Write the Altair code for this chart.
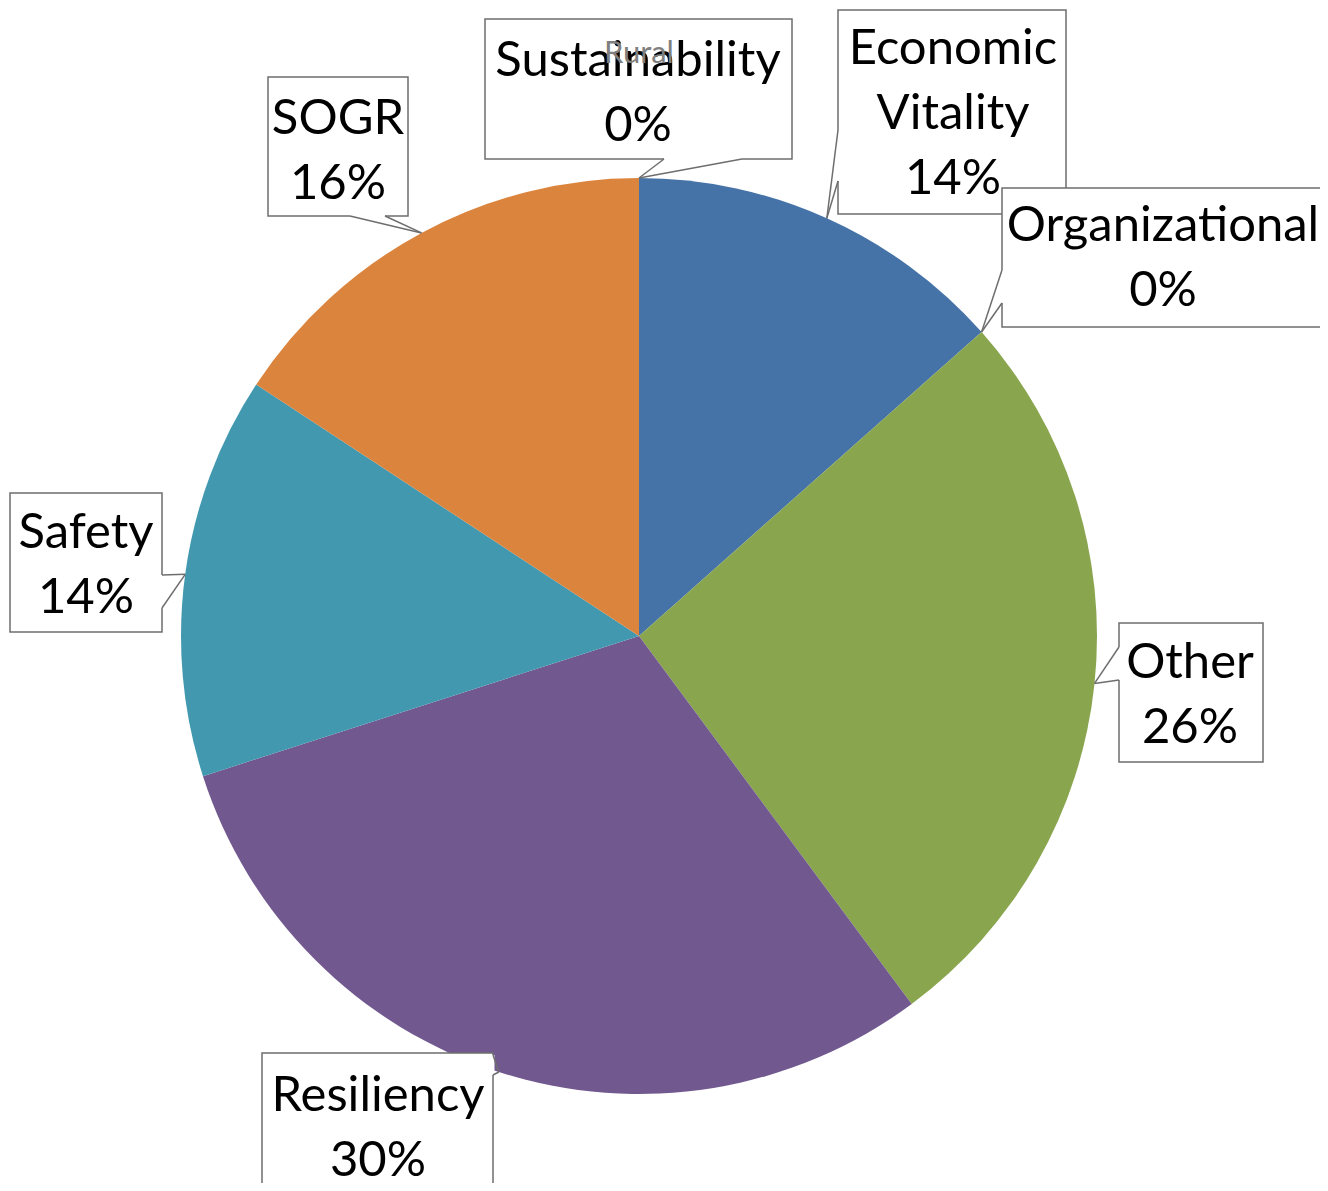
import altair as alt
import pandas as pd

# ---- data ----
categories = ["Economic Vitality", "Organizational", "Other", "Resiliency",
              "Safety", "SOGR", "Sustainability"]
values = [13.45, 0.0, 26.4, 30.2, 14.2, 15.75, 0.0]
pct_labels = ["14%", "0%", "26%", "30%", "14%", "16%", "0%"]
display_names = ["Economic\nVitality", "Organizational", "Other", "Resiliency",
                 "Safety", "SOGR", "Sustainability"]
title_text = "Rural"

# ---- styles ----
colors = ["#4572A7", "#AA4643", "#89A54E", "#71588F", "#4198AF", "#DB843D", "#93A9CF"]
FONT = "Lato"

# ---- layout (page pixel coordinates, shifted by the 8px page margin) ----
OFF = 8
W, H = 1312, 1175
CX, CY, R = 639 - OFF, 636 - OFF, 458
box_x1 = [838, 1002, 1119, 262, 10, 268, 485]
box_x2 = [1066, 1345, 1263, 493, 162, 408, 792]
box_y1 = [10, 188, 623, 1053, 493, 77, 19]
box_y2 = [214, 327, 762, 1215, 632, 216, 159]
base1_x = [838, 1002, 1119, 493, 162, 350, 664]
base1_y = [130, 270, 647, 1055, 575, 216, 159]
base2_x = [838, 1002, 1119, 493, 162, 385, 742]
base2_y = [181, 303, 680, 1075, 608, 216, 159]
text_x = [953, 1163, 1190, 378, 86, 338, 638]
text_y = [64, 241, 678, 1111, 548, 134, 76]
title_x, title_y = 639, 63

sh = lambda arr: [a - OFF for a in arr]
df = pd.DataFrame({
    "category": categories,
    "value": values,
    "order": list(range(len(categories))),
    "label": [f"{n}\n{p}" for n, p in zip(display_names, pct_labels)],
    "bx1": sh(box_x1), "bx2": sh(box_x2), "by1": sh(box_y1), "by2": sh(box_y2),
    "b1x": sh(base1_x), "b1y": sh(base1_y), "b2x": sh(base2_x), "b2y": sh(base2_y),
    "lx": sh(text_x), "ly": sh(text_y),
})

base = alt.Chart(df)

def px(field):
    return alt.X(field, type="quantitative", scale=None, axis=None)

def py(field):
    return alt.Y(field, type="quantitative", scale=None, axis=None)

pie = base.mark_arc(outerRadius=R).encode(
    theta=alt.Theta("value:Q", stack=True),
    color=alt.Color("category:N", scale=alt.Scale(domain=categories, range=colors), legend=None),
    order=alt.Order("order:Q"),
    x=alt.value(CX),
    y=alt.value(CY),
)

boxes = base.mark_rect(fill="white", stroke="#6e6e6e", strokeWidth=1.5).encode(
    x=px("bx1"), x2="bx2", y=py("by1"), y2="by2"
)

tips = base.transform_window(
    cum="sum(value)", sort=[alt.SortField("order")], frame=[None, 0]
).transform_joinaggregate(
    total="sum(value)"
).transform_calculate(
    mid="(datum.cum - datum.value / 2) / datum.total * 2 * PI",
    tx=f"{CX} + {R} * sin(datum.mid)",
    ty=f"{CY} - {R} * cos(datum.mid)",
)

gap = base.mark_rule(color="white", strokeWidth=3).encode(
    x=px("b1x"), x2="b2x", y=py("b1y"), y2="b2y"
)
ptr1 = tips.mark_rule(color="#6e6e6e", strokeWidth=1.5).encode(
    x=px("b1x"), x2="tx:Q", y=py("b1y"), y2="ty:Q"
)
ptr2 = tips.mark_rule(color="#6e6e6e", strokeWidth=1.5).encode(
    x=px("b2x"), x2="tx:Q", y=py("b2y"), y2="ty:Q"
)

labels = base.mark_text(
    font=FONT, fontSize=49, color="black", align="center", baseline="alphabetic",
    lineBreak="\n", lineHeight=65
).encode(x=px("lx"), y=py("ly"), text="label:N")

title = alt.Chart(pd.DataFrame({"t": [title_text]})).mark_text(
    font=FONT, fontSize=31, color="#7f7f7f", align="center", baseline="alphabetic"
).encode(text="t:N", x=alt.value(title_x - OFF), y=alt.value(title_y - OFF))

chart = alt.layer(pie, boxes, gap, ptr1, ptr2, labels, title).properties(
    width=W, height=H, autosize=alt.AutoSizeParams(type="none"), padding=0
).configure_view(stroke=None)

chart.save("out.html", embed_options={"renderer": "svg", "actions": False})
